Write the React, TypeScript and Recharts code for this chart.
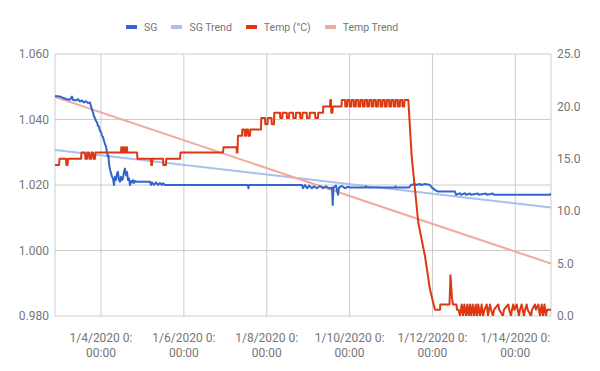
import React from 'react';
import { LineChart, Line, XAxis, YAxis, CartesianGrid } from 'recharts';

// time axis: day of January 2020 (4 = 1/4/2020 00:00)
const xDomain: [number, number] = [2.89, 14.862];
const xTicks = [4, 6, 8, 10, 12, 14];
const sgTicks = [0.98, 1.0, 1.02, 1.04, 1.06];
const tempTicks = [0, 5, 10, 15, 20, 25];

const seriesNames = ['SG', 'SG Trend', 'Temp (°C)', 'Temp Trend'];
const seriesColors = ['#3366cc', '#a9bfec', '#dc3912', '#f1ab9c'];

const sgPoints: [number, number][] = [
  [2.890, 1.0472], [3.010, 1.0470], [3.107, 1.0465], [3.180, 1.0462], [3.252, 1.0460],
  [3.300, 1.0470], [3.324, 1.0460], [3.397, 1.0458], [3.445, 1.0462], [3.493, 1.0455],
  [3.542, 1.0458], [3.590, 1.0452], [3.638, 1.0456], [3.686, 1.0450], [3.734, 1.0452],
  [3.783, 1.0430], [3.807, 1.0422], [3.831, 1.0410], [3.855, 1.0404], [3.880, 1.0395],
  [3.904, 1.0392], [3.928, 1.0380], [3.952, 1.0378], [3.976, 1.0365], [4.000, 1.0362],
  [4.024, 1.0350], [4.048, 1.0347], [4.072, 1.0335], [4.097, 1.0325], [4.121, 1.0318],
  [4.145, 1.0300], [4.169, 1.0285], [4.181, 1.0290],
  [4.193, 1.0265], [4.217, 1.0248], [4.266, 1.0225], [4.290, 1.0220], [4.314, 1.0200],
  [4.338, 1.0225], [4.362, 1.0215], [4.386, 1.0235], [4.410, 1.0240], [4.435, 1.0215],
  [4.459, 1.0210], [4.483, 1.0225], [4.507, 1.0215], [4.531, 1.0220], [4.555, 1.0240],
  [4.579, 1.0250], [4.604, 1.0230], [4.628, 1.0240], [4.652, 1.0215], [4.676, 1.0220],
  [4.700, 1.0200], [4.724, 1.0212], [4.749, 1.0208], [4.773, 1.0215], [4.797, 1.0206],
  [4.821, 1.0212], [4.869, 1.0210], [5.183, 1.0210], [5.207, 1.0200], [5.231, 1.0208],
  [5.280, 1.0200], [5.328, 1.0208], [5.376, 1.0200], [5.424, 1.0206], [5.473, 1.0200],
  [5.497, 1.0205], [5.545, 1.0200], [7.548, 1.0200], [7.560, 1.0190], [7.572, 1.0200],
  [8.852, 1.0200], [8.876, 1.0190], [8.924, 1.0200], [8.973, 1.0190], [9.021, 1.0198],
  [9.093, 1.0190], [9.141, 1.0196], [9.214, 1.0190], [9.286, 1.0197], [9.359, 1.0190],
  [9.431, 1.0196], [9.503, 1.0190], [9.576, 1.0192], [9.593, 1.0139], [9.612, 1.0192],
  [9.672, 1.0198], [9.721, 1.0170], [9.745, 1.0192], [9.817, 1.0197], [9.890, 1.0190],
  [9.962, 1.0195], [10.010, 1.0192], [10.372, 1.0192], [10.397, 1.0196], [10.421, 1.0192],
  [11.096, 1.0192], [11.108, 1.0196], [11.120, 1.0192], [11.434, 1.0192], [11.482, 1.0200],
  [11.579, 1.0203], [11.603, 1.0200], [11.700, 1.0203], [11.724, 1.0200], [11.820, 1.0203],
  [11.941, 1.0200], [11.989, 1.0192], [12.062, 1.0185], [12.134, 1.0180], [12.545, 1.0180],
  [12.569, 1.0170], [12.666, 1.0175], [12.690, 1.0170], [12.786, 1.0175], [12.810, 1.0170],
  [12.907, 1.0174], [12.931, 1.0170], [13.100, 1.0174], [13.124, 1.0170], [13.293, 1.0174],
  [13.317, 1.0170], [13.462, 1.0174], [13.486, 1.0170], [14.838, 1.0170], [14.862, 1.0175],
];

const sgTrendPoints: [number, number][] = [[2.890, 1.0307], [14.862, 1.0131]];

const tempPoints: [number, number][] = [
  [2.890, 14.4], [2.987, 14.4], [2.999, 15.0], [3.155, 15.0], [3.168, 14.4], [3.192, 14.4],
  [3.204, 15.0], [3.518, 15.0], [3.530, 15.6], [3.614, 15.6], [3.626, 15.0], [3.662, 15.0],
  [3.674, 15.6], [3.710, 15.6], [3.722, 15.0], [3.759, 15.0], [3.771, 15.6], [3.807, 15.6],
  [3.819, 15.0], [3.855, 15.0], [3.867, 15.6], [4.483, 15.6], [4.490, 16.1], [4.507, 16.1],
  [4.514, 15.6], [4.543, 15.6], [4.550, 16.1], [4.567, 16.1], [4.575, 15.6], [4.604, 15.6],
  [4.611, 16.1], [4.628, 16.1], [4.635, 15.6], [4.869, 15.6], [4.881, 15.0], [5.207, 15.0],
  [5.214, 14.4], [5.231, 14.4], [5.238, 15.0], [5.497, 15.0], [5.504, 14.4], [5.569, 14.4],
  [5.576, 15.0], [5.907, 15.0], [5.919, 15.6], [6.945, 15.6], [6.957, 16.1], [7.271, 16.1],
  [7.278, 15.6], [7.295, 15.6], [7.307, 17.2], [7.404, 17.2], [7.411, 17.8], [7.464, 17.8],
  [7.471, 17.2], [7.500, 17.2], [7.507, 17.8], [7.548, 17.8], [7.556, 17.2], [7.597, 17.2],
  [7.604, 17.8], [7.862, 17.8], [7.869, 18.9], [7.959, 18.9], [7.966, 18.3], [8.019, 18.3],
  [8.027, 18.9], [8.116, 18.9], [8.124, 18.3], [8.176, 18.3], [8.183, 19.4], [8.321, 19.4],
  [8.328, 18.9], [8.376, 18.9], [8.384, 19.4], [8.483, 19.4], [8.490, 18.9], [8.538, 18.9],
  [8.545, 19.4], [8.635, 19.4], [8.642, 18.9], [8.700, 18.9], [8.707, 19.4], [8.804, 19.4],
  [8.811, 18.9], [8.859, 18.9], [8.866, 19.4], [8.965, 19.4], [8.972, 18.9], [9.033, 18.9],
  [9.040, 19.4], [9.166, 19.4], [9.173, 18.9], [9.238, 18.9], [9.245, 19.4], [9.359, 19.4],
  [9.366, 20.0], [9.528, 20.0], [9.535, 20.6], [9.552, 20.6], [9.559, 19.4], [9.588, 19.4],
  [9.595, 20.0], [9.805, 20.0], [9.813, 20.6],
  [9.890, 20.6], [9.897, 20.0], [9.938, 20.0], [9.945, 20.6],
  [9.996, 20.6], [10.003, 20.0], [10.044, 20.0], [10.051, 20.6],
  [10.102, 20.6], [10.109, 20.0], [10.150, 20.0], [10.157, 20.6],
  [10.209, 20.6], [10.216, 20.0], [10.257, 20.0], [10.264, 20.6],
  [10.315, 20.6], [10.322, 20.0], [10.363, 20.0], [10.370, 20.6],
  [10.421, 20.6], [10.428, 20.0], [10.469, 20.0], [10.476, 20.6],
  [10.527, 20.6], [10.534, 20.0], [10.575, 20.0], [10.582, 20.6],
  [10.633, 20.6], [10.640, 20.0], [10.681, 20.0], [10.688, 20.6],
  [10.740, 20.6], [10.747, 20.0], [10.788, 20.0], [10.795, 20.6],
  [10.846, 20.6], [10.853, 20.0], [10.894, 20.0], [10.901, 20.6],
  [10.952, 20.6], [10.959, 20.0], [11.000, 20.0], [11.007, 20.6],
  [11.058, 20.6], [11.065, 20.0], [11.106, 20.0], [11.113, 20.6],
  [11.164, 20.6], [11.171, 20.0], [11.212, 20.0], [11.219, 20.6],
  [11.271, 20.6], [11.278, 20.0], [11.319, 20.0], [11.326, 20.6],
  [11.418, 20.6], [11.500, 15.2], [11.659, 8.9], [11.821, 5.7], [11.942, 2.5], [12.062, 0.6],
  [12.183, 0.6], [12.190, 1.1], [12.412, 1.1], [12.436, 3.9], [12.472, 1.7], [12.497, 1.1],
  [12.581, 1.1], [12.593, 0.6], [12.630, 0.6], [12.666, 0.0], [12.707, 1.1], [12.738, 0.0],
  [12.770, 1.1], [12.811, 0.0], [12.842, 1.1], [12.876, 0.0], [12.907, 1.1], [12.938, 0.0],
  [12.972, 1.1], [13.008, 0.0], [13.045, 1.1], [13.076, 0.0], [13.107, 1.1], [13.148, 0.0],
  [13.189, 1.1], [13.221, 0.0], [13.257, 0.6], [13.310, 1.1], [13.341, 0.0], [13.366, 0.6],
  [13.390, 1.1], [13.414, 0.6], [13.462, 0.0], [13.486, 0.6], [13.590, 1.1], [13.614, 0.6],
  [13.703, 0.0], [13.727, 0.6], [13.831, 1.1], [13.855, 0.6], [13.896, 0.0], [13.920, 0.6],
  [13.951, 1.1], [13.975, 0.6], [14.033, 1.1], [14.057, 0.6], [14.089, 0.0], [14.113, 0.6],
  [14.154, 1.1], [14.178, 0.6], [14.209, 0.0], [14.234, 0.6], [14.275, 1.1], [14.299, 0.6],
  [14.379, 0.0], [14.403, 0.6], [14.475, 1.1], [14.499, 0.6], [14.555, 1.1], [14.596, 0.0],
  [14.637, 1.1], [14.668, 0.0], [14.704, 1.1], [14.741, 0.0], [14.765, 0.6], [14.862, 0.6],
];

const tempTrendPoints: [number, number][] = [[2.890, 20.9], [14.862, 5.0]];

const toRows = (pts: [number, number][]) => pts.map(([t, v]) => ({ t, v }));
const sgData = toRows(sgPoints);
const sgTrendData = toRows(sgTrendPoints);
const tempData = toRows(tempPoints);
const tempTrendData = toRows(tempTrendPoints);

const TEXT = '#757575';
const FONT = 'Roboto, Arial, sans-serif';

const DateTick = (props: any) => {
  const { x, y, payload } = props;
  const label = `1/${payload.value}/2020 0:`;
  return (
    <text x={x} y={y} textAnchor="middle" fill={TEXT} fontSize={12} fontFamily={FONT}>
      <tspan x={x} y={y + 18}>{label}</tspan>
      <tspan x={x} y={y + 33}>00:00</tspan>
    </text>
  );
};

const LegendBar = () => (
  <div
    style={{
      position: 'absolute', left: 126, top: 19, display: 'flex', alignItems: 'center',
      fontFamily: FONT, fontSize: 10.5, color: TEXT, whiteSpace: 'nowrap', lineHeight: '16px',
    }}
  >
    {seriesNames.map((n, i) => (
      <div key={n} style={{ display: 'flex', alignItems: 'center', marginRight: 14 }}>
        <div style={{ width: 11, height: 4, background: seriesColors[i], marginRight: 7 }} />
        <span style={{ position: 'relative', top: 1 }}>{n}</span>
      </div>
    ))}
  </div>
);

export default function App() {
  return (
    <div style={{ position: 'absolute', left: 0, top: 0, width: 600, height: 371, background: '#fff', fontFamily: FONT }}>
      <LineChart width={600} height={371} margin={{ top: 54, right: 0, bottom: 0, left: 0 }}>
        <CartesianGrid yAxisId="left" stroke="#cccccc" strokeWidth={1} />
        <XAxis
          dataKey="t"
          type="number"
          domain={xDomain}
          ticks={xTicks}
          allowDataOverflow
          height={55}
          axisLine={false}
          tickLine={false}
          tick={<DateTick />}
          interval={0}
        />
        <YAxis
          yAxisId="left"
          orientation="left"
          width={55}
          domain={[0.98, 1.06]}
          ticks={sgTicks}
          allowDataOverflow
          axisLine={false}
          tickLine={false}
          tickSize={0}
          tickMargin={6}
          tickFormatter={(v: number) => v.toFixed(3)}
          tick={{ fill: TEXT, fontSize: 12, fontFamily: FONT }}
          interval={0}
        />
        <YAxis
          yAxisId="right"
          orientation="right"
          width={49}
          domain={[0, 25]}
          ticks={tempTicks}
          allowDataOverflow
          axisLine={false}
          tickLine={false}
          tickSize={0}
          tickMargin={6}
          tickFormatter={(v: number) => v.toFixed(1)}
          tick={{ fill: TEXT, fontSize: 12, fontFamily: FONT }}
          interval={0}
        />
        <Line yAxisId="left" data={sgTrendData} dataKey="v" name={seriesNames[1]} stroke={seriesColors[1]} strokeWidth={2} dot={false} activeDot={false} isAnimationActive={false} type="linear" />
        <Line yAxisId="right" data={tempTrendData} dataKey="v" name={seriesNames[3]} stroke={seriesColors[3]} strokeWidth={2} dot={false} activeDot={false} isAnimationActive={false} type="linear" />
        <Line yAxisId="left" data={sgData} dataKey="v" name={seriesNames[0]} stroke={seriesColors[0]} strokeWidth={2} dot={false} activeDot={false} isAnimationActive={false} type="linear" strokeLinejoin="round" />
        <Line yAxisId="right" data={tempData} dataKey="v" name={seriesNames[2]} stroke={seriesColors[2]} strokeWidth={2} dot={false} activeDot={false} isAnimationActive={false} type="linear" strokeLinejoin="round" />
      </LineChart>
      <LegendBar />
    </div>
  );
}
